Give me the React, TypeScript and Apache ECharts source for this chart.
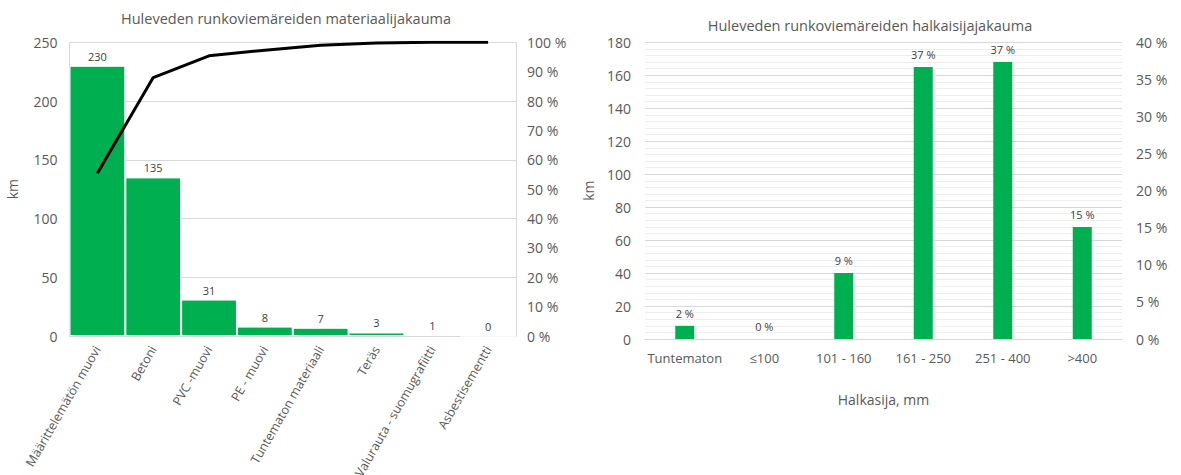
import React, { useEffect, useRef } from "react";
import * as echarts from "echarts";

const materialCategories = [
  "Määrittelemätön muovi",
  "Betoni",
  "PVC -muovi",
  "PE - muovi",
  "Tuntematon materiaali",
  "Teräs",
  "Valurauta - suomugrafiitti",
  "Asbestisementti",
];
const materialKm = [230, 135, 31, 8, 7, 3, 1, 0];
const materialCumulativePct = [55.4, 88.0, 95.4, 97.3, 99.0, 99.8, 100, 100];
const materialKmTicks = { min: 0, max: 250, interval: 50 };
const materialPctTicks = { min: 0, max: 100, interval: 10 };

const diameterCategories = ["Tuntematon", "≤100", "101 - 160", "161 - 250", "251 - 400", ">400"];
const diameterKm = [8, 0, 40, 165, 168, 68];
const diameterPctLabels = ["2 %", "0 %", "9 %", "37 %", "37 %", "15 %"];
const diameterKmTicks = { min: 0, max: 180, interval: 20 };
const diameterPctTicks = { min: 0, max: 40, interval: 5 };

const FONT = "'Open Sans', 'Noto Sans', sans-serif";
const GREEN = "#00B050";
const TXT = "#595959";

export default function App() {
  const ref = useRef<HTMLDivElement>(null);
  useEffect(() => {
    if (!ref.current) return;
    const chart = echarts.init(ref.current, null, { renderer: "svg" });
    const axisLabel = { color: TXT, fontSize: 14, fontFamily: FONT };
    chart.setOption({
      animation: false,
      textStyle: { fontFamily: FONT },
      graphic: [
        {
          type: "text",
          x: 286,
          y: 18,
          style: {
            text: "Huleveden runkoviemäreiden materiaalijakauma",
            textAlign: "center",
            textVerticalAlign: "middle",
            fill: TXT,
            fontSize: 14.5,
            fontFamily: FONT,
          },
        },
        {
          type: "text",
          x: 870,
          y: 25,
          style: {
            text: "Huleveden runkoviemäreiden halkaisijajakauma",
            textAlign: "center",
            textVerticalAlign: "middle",
            fill: TXT,
            fontSize: 14.5,
            fontFamily: FONT,
          },
        },
      ],
      grid: [
        { left: 69.5, top: 42.3, width: 446.5, height: 293.7, outerBoundsMode: "none", containLabel: false },
        { left: 645, top: 42.3, width: 477, height: 296.7, outerBoundsMode: "none", containLabel: false },
      ],
      xAxis: [
        {
          type: "category",
          gridIndex: 0,
          data: materialCategories,
          axisLine: { lineStyle: { color: "#d9d9d9" } },
          axisTick: { show: false },
          axisLabel: { ...axisLabel, fontSize: 12.5, rotate: 60, margin: 11, interval: 0 },
        },
        {
          type: "category",
          gridIndex: 1,
          data: diameterCategories,
          axisLine: { lineStyle: { color: "#d9d9d9" } },
          axisTick: { show: false },
          axisLabel: { ...axisLabel, fontSize: 13, margin: 12, interval: 0 },
          name: "Halkasija, mm",
          nameLocation: "middle",
          nameGap: 53,
          nameTextStyle: { color: TXT, fontSize: 14, fontFamily: FONT },
        },
      ],
      yAxis: [
        {
          type: "value",
          gridIndex: 0,
          ...materialKmTicks,
          axisLine: { show: true, lineStyle: { color: "#d9d9d9" } },
          axisTick: { show: false },
          splitLine: { lineStyle: { color: "#d9d9d9" } },
          axisLabel: { ...axisLabel, margin: 12 },
          name: "km",
          nameLocation: "middle",
          nameGap: 50,
          nameRotate: 90,
          nameTextStyle: { color: TXT, fontSize: 14, fontFamily: FONT },
        },
        {
          type: "value",
          gridIndex: 0,
          position: "right",
          ...materialPctTicks,
          axisLine: { show: true, lineStyle: { color: "#d9d9d9" } },
          axisTick: { show: false },
          splitLine: { show: false },
          axisLabel: { ...axisLabel, margin: 11, formatter: "{value} %" },
        },
        {
          type: "value",
          gridIndex: 1,
          ...diameterKmTicks,
          axisLine: { show: false },
          axisTick: { show: false },
          splitLine: { lineStyle: { color: "#d9d9d9" } },
          minorTick: { show: false, splitNumber: 5 },
          minorSplitLine: { show: true, lineStyle: { color: "#eeeeee" } },
          axisLabel: { ...axisLabel, margin: 14 },
          name: "km",
          nameLocation: "middle",
          nameGap: 50,
          nameRotate: 90,
          nameTextStyle: { color: TXT, fontSize: 14, fontFamily: FONT },
        },
        {
          type: "value",
          gridIndex: 1,
          position: "right",
          ...diameterPctTicks,
          axisLine: { show: false },
          axisTick: { show: false },
          splitLine: { show: false },
          axisLabel: { ...axisLabel, margin: 14, formatter: "{value} %" },
        },
      ],
      series: [
        {
          type: "bar",
          xAxisIndex: 0,
          yAxisIndex: 0,
          data: materialKm,
          barCategoryGap: "0%",
          itemStyle: { color: GREEN, borderColor: "#ffffff", borderWidth: 1 },
          label: { show: true, position: "top", color: "#404040", fontSize: 11, fontFamily: FONT, distance: 4 },
        },
        {
          type: "line",
          xAxisIndex: 0,
          yAxisIndex: 1,
          data: materialCumulativePct,
          showSymbol: false,
          lineStyle: { color: "#000000", width: 3 },
          z: 5,
        },
        {
          type: "bar",
          xAxisIndex: 1,
          yAxisIndex: 2,
          data: diameterKm,
          barWidth: 19,
          itemStyle: { color: GREEN },
          label: {
            show: true,
            position: "top",
            color: "#404040",
            fontSize: 11,
            fontFamily: FONT,
            distance: 7,
            formatter: (p: any) => diameterPctLabels[p.dataIndex],
          },
        },
      ],
    });
    return () => chart.dispose();
  }, []);
  return (
    <div
      ref={ref}
      style={{ position: "absolute", left: 0, top: 0, width: 1181, height: 475, background: "#fff" }}
    />
  );
}
